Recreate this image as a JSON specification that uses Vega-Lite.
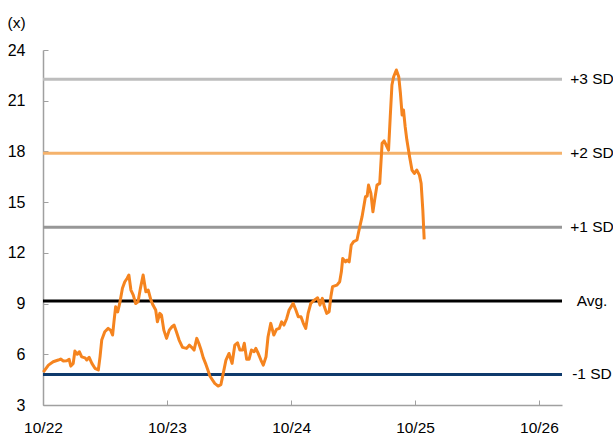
{
  "$schema": "https://vega.github.io/schema/vega-lite/v6.json",
  "width": 519,
  "height": 355,
  "padding": {"left": 43, "top": 50, "right": 51, "bottom": 29},
  "autosize": {"type": "none"},
  "background": "white",
  "config": {
    "view": {"stroke": null},
    "font": "Liberation Sans",
    "axis": {
      "grid": false,
      "domainColor": "#a0a0a0",
      "domainWidth": 1.5,
      "tickColor": "#a0a0a0",
      "tickWidth": 1,
      "tickSize": -5,
      "labelFont": "Liberation Sans",
      "labelFontSize": 15.5,
      "labelColor": "#000000"
    }
  },
  "datasets": {
    "series": [
      {"date": "2022-10-02", "v": 4.95}, {"date": "2022-10-17", "v": 5.36}, {"date": "2022-10-31", "v": 5.56},
      {"date": "2022-11-15", "v": 5.66}, {"date": "2022-11-22", "v": 5.72}, {"date": "2022-11-30", "v": 5.6},
      {"date": "2022-12-10", "v": 5.62}, {"date": "2022-12-17", "v": 5.7}, {"date": "2022-12-22", "v": 5.3},
      {"date": "2022-12-29", "v": 5.46}, {"date": "2023-01-03", "v": 6.19}, {"date": "2023-01-10", "v": 6.0},
      {"date": "2023-01-16", "v": 6.15}, {"date": "2023-01-23", "v": 5.85}, {"date": "2023-02-02", "v": 5.79},
      {"date": "2023-02-07", "v": 5.66}, {"date": "2023-02-14", "v": 5.82}, {"date": "2023-02-22", "v": 5.46},
      {"date": "2023-03-03", "v": 5.17}, {"date": "2023-03-13", "v": 5.07}, {"date": "2023-03-18", "v": 5.85},
      {"date": "2023-03-23", "v": 6.84}, {"date": "2023-04-01", "v": 7.33}, {"date": "2023-04-11", "v": 7.53},
      {"date": "2023-04-18", "v": 7.43}, {"date": "2023-04-24", "v": 7.14}, {"date": "2023-04-28", "v": 7.92},
      {"date": "2023-05-03", "v": 8.81}, {"date": "2023-05-09", "v": 8.51}, {"date": "2023-05-15", "v": 9.01},
      {"date": "2023-05-23", "v": 9.9}, {"date": "2023-05-30", "v": 10.29}, {"date": "2023-06-06", "v": 10.5},
      {"date": "2023-06-11", "v": 10.69}, {"date": "2023-06-17", "v": 9.8}, {"date": "2023-06-24", "v": 9.5},
      {"date": "2023-07-01", "v": 9.0}, {"date": "2023-07-08", "v": 9.11}, {"date": "2023-07-15", "v": 9.9},
      {"date": "2023-07-23", "v": 10.69}, {"date": "2023-07-31", "v": 9.7}, {"date": "2023-08-07", "v": 9.8},
      {"date": "2023-08-15", "v": 9.2}, {"date": "2023-08-21", "v": 8.91}, {"date": "2023-08-29", "v": 8.62},
      {"date": "2023-09-03", "v": 7.92}, {"date": "2023-09-10", "v": 8.42}, {"date": "2023-09-15", "v": 8.32},
      {"date": "2023-09-22", "v": 7.43}, {"date": "2023-09-30", "v": 6.94}, {"date": "2023-10-08", "v": 7.43},
      {"date": "2023-10-16", "v": 7.63}, {"date": "2023-10-22", "v": 7.73}, {"date": "2023-10-29", "v": 7.33},
      {"date": "2023-11-06", "v": 6.84}, {"date": "2023-11-16", "v": 6.41}, {"date": "2023-11-28", "v": 6.35},
      {"date": "2023-12-06", "v": 6.54}, {"date": "2023-12-13", "v": 6.41}, {"date": "2023-12-20", "v": 6.25},
      {"date": "2023-12-28", "v": 6.94}, {"date": "2024-01-03", "v": 6.65}, {"date": "2024-01-09", "v": 6.3},
      {"date": "2024-01-16", "v": 5.8}, {"date": "2024-01-24", "v": 5.4}, {"date": "2024-01-31", "v": 5.0},
      {"date": "2024-02-05", "v": 4.7}, {"date": "2024-02-19", "v": 4.28}, {"date": "2024-02-29", "v": 4.12},
      {"date": "2024-03-08", "v": 4.2}, {"date": "2024-03-15", "v": 4.87}, {"date": "2024-03-23", "v": 5.66},
      {"date": "2024-04-01", "v": 6.05}, {"date": "2024-04-10", "v": 5.46}, {"date": "2024-04-18", "v": 6.54},
      {"date": "2024-04-26", "v": 6.68}, {"date": "2024-05-03", "v": 6.25}, {"date": "2024-05-11", "v": 6.25},
      {"date": "2024-05-16", "v": 6.65}, {"date": "2024-05-23", "v": 5.7}, {"date": "2024-05-30", "v": 5.7},
      {"date": "2024-06-06", "v": 6.25}, {"date": "2024-06-14", "v": 6.15}, {"date": "2024-06-19", "v": 6.35},
      {"date": "2024-06-26", "v": 6.05}, {"date": "2024-07-04", "v": 5.66}, {"date": "2024-07-11", "v": 5.36},
      {"date": "2024-07-19", "v": 5.85}, {"date": "2024-07-25", "v": 7.04}, {"date": "2024-08-02", "v": 7.83},
      {"date": "2024-08-11", "v": 7.14}, {"date": "2024-08-19", "v": 7.47}, {"date": "2024-08-27", "v": 7.53},
      {"date": "2024-09-03", "v": 7.92}, {"date": "2024-09-10", "v": 7.73}, {"date": "2024-09-18", "v": 8.12},
      {"date": "2024-09-25", "v": 8.62}, {"date": "2024-10-07", "v": 9.01}, {"date": "2024-10-15", "v": 8.62},
      {"date": "2024-10-22", "v": 8.22}, {"date": "2024-10-30", "v": 8.22}, {"date": "2024-11-06", "v": 7.83},
      {"date": "2024-11-13", "v": 7.53}, {"date": "2024-11-20", "v": 8.42}, {"date": "2024-11-28", "v": 9.01},
      {"date": "2024-12-08", "v": 9.2}, {"date": "2024-12-18", "v": 9.34}, {"date": "2024-12-25", "v": 8.91},
      {"date": "2025-01-01", "v": 9.31}, {"date": "2025-01-07", "v": 8.81}, {"date": "2025-01-14", "v": 8.42},
      {"date": "2025-01-21", "v": 8.52}, {"date": "2025-01-26", "v": 9.4}, {"date": "2025-01-31", "v": 10.0},
      {"date": "2025-02-13", "v": 10.09}, {"date": "2025-02-21", "v": 10.29}, {"date": "2025-02-26", "v": 10.88},
      {"date": "2025-03-02", "v": 11.67}, {"date": "2025-03-10", "v": 11.47}, {"date": "2025-03-15", "v": 11.57},
      {"date": "2025-03-21", "v": 11.47}, {"date": "2025-03-27", "v": 12.46}, {"date": "2025-04-03", "v": 12.66},
      {"date": "2025-04-13", "v": 12.76}, {"date": "2025-04-18", "v": 13.25}, {"date": "2025-04-28", "v": 14.14},
      {"date": "2025-05-08", "v": 15.32}, {"date": "2025-05-13", "v": 15.36}, {"date": "2025-05-17", "v": 16.01},
      {"date": "2025-05-24", "v": 15.52}, {"date": "2025-05-30", "v": 14.43}, {"date": "2025-06-04", "v": 15.12},
      {"date": "2025-06-11", "v": 16.01}, {"date": "2025-06-19", "v": 16.11}, {"date": "2025-06-26", "v": 18.48},
      {"date": "2025-07-02", "v": 18.62}, {"date": "2025-07-08", "v": 18.38}, {"date": "2025-07-15", "v": 18.08},
      {"date": "2025-07-20", "v": 20.05}, {"date": "2025-07-25", "v": 21.93}, {"date": "2025-07-30", "v": 22.42},
      {"date": "2025-08-07", "v": 22.82}, {"date": "2025-08-14", "v": 22.42}, {"date": "2025-08-19", "v": 21.44},
      {"date": "2025-08-24", "v": 20.15}, {"date": "2025-08-28", "v": 20.45}, {"date": "2025-09-02", "v": 19.46},
      {"date": "2025-09-07", "v": 18.67}, {"date": "2025-09-15", "v": 17.69}, {"date": "2025-09-22", "v": 16.9},
      {"date": "2025-09-29", "v": 16.7}, {"date": "2025-10-06", "v": 16.9}, {"date": "2025-10-14", "v": 16.6},
      {"date": "2025-10-19", "v": 16.11}, {"date": "2025-10-24", "v": 14.53}, {"date": "2025-10-28", "v": 12.8}
    ],
    "refs": [
      {"name": "+3 SD", "v": 22.27},
      {"name": "+2 SD", "v": 17.89},
      {"name": "+1 SD", "v": 13.51},
      {"name": "Avg.", "v": 9.15},
      {"name": "-1 SD", "v": 4.81}
    ]
  },
  "layer": [
    {
      "data": {"name": "refs"},
      "mark": {"type": "rule", "strokeWidth": 3},
      "encoding": {
        "y": {"field": "v", "type": "quantitative", "scale": {"domain": [3, 24], "nice": false, "zero": false}},
        "color": {
          "field": "name",
          "type": "nominal",
          "scale": {
            "domain": ["+3 SD", "+2 SD", "+1 SD", "Avg.", "-1 SD"],
            "range": ["#bdbdbd", "#f5b26b", "#979797", "#000000", "#0e3a6c"]
          },
          "legend": null
        }
      }
    },
    {
      "data": {"name": "refs"},
      "mark": {"type": "text", "align": "center", "baseline": "middle", "dx": 30, "fontSize": 15.5, "font": "Liberation Sans", "color": "#000000"},
      "encoding": {
        "x": {"datum": {"year": 2026, "month": 12, "date": 8, "utc": true}, "type": "temporal"},
        "y": {"field": "v", "type": "quantitative"},
        "text": {"field": "name"}
      }
    },
    {
      "data": {"name": "series"},
      "mark": {"type": "line", "color": "#f5841f", "strokeWidth": 3, "strokeJoin": "round"},
      "encoding": {
        "x": {
          "field": "date",
          "type": "temporal",
          "scale": {
            "type": "utc",
            "domain": [
              {"year": 2022, "month": 10, "date": 1, "utc": true},
              {"year": 2026, "month": 12, "date": 8, "utc": true}
            ]
          },
          "axis": {
            "title": null,
            "format": "%m/%y",
            "values": [
              {"year": 2022, "month": 10, "date": 1, "utc": true},
              {"year": 2023, "month": 10, "date": 1, "utc": true},
              {"year": 2024, "month": 10, "date": 1, "utc": true},
              {"year": 2025, "month": 10, "date": 1, "utc": true},
              {"year": 2026, "month": 10, "date": 1, "utc": true}
            ],
            "labelPadding": 20,
            "labelFlush": false,
            "labelBaseline": "top"
          }
        },
        "y": {
          "field": "v",
          "type": "quantitative",
          "axis": {
            "values": [3, 6, 9, 12, 15, 18, 21, 24],
            "labelFontSize": 16,
            "labelPadding": 23,
            "title": "(x)",
            "titleAngle": 0,
            "titleAlign": "left",
            "titleBaseline": "alphabetic",
            "titleX": -36,
            "titleY": -23,
            "titleFont": "Liberation Sans",
            "titleFontSize": 15.5,
            "titleFontWeight": "normal",
            "titleColor": "#000000"
          }
        }
      }
    }
  ],
  "resolve": {"scale": {"color": "independent"}}
}
